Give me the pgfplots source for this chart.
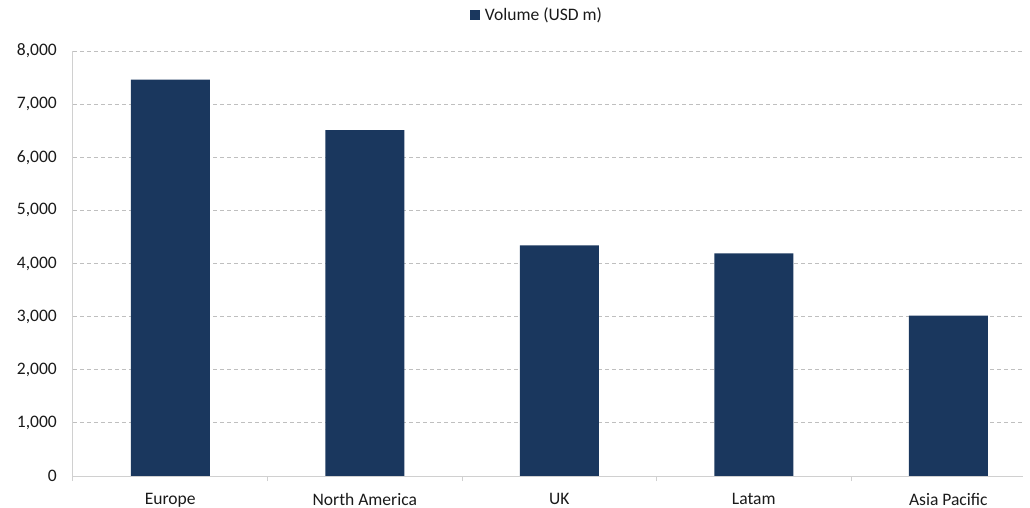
\documentclass[border=0pt]{standalone}
\usepackage{pgfplots}
\pgfplotsset{compat=1.18}
\usepackage{fontspec}
\setmainfont{Carlito}
\definecolor{barc}{HTML}{1A375E}
\definecolor{gridc}{HTML}{BFBFBF}
\definecolor{axl}{HTML}{D0D0D0}
\definecolor{txt}{HTML}{1A1A1A}
\begin{document}
\begin{tikzpicture}
\path[use as bounding box] (-73bp,-32bp) rectangle (957bp,476bp);
\begin{axis}[
  at={(0,0)}, anchor=south west,
  scale only axis, width=950bp, height=425bp,
  ymin=0, ymax=8000, ytick={0,1000,...,8000},
  xmin=-0.5, xmax=4.384,
  xtick={0,...,4},
  xticklabels={Europe,North America,UK,Latam,Asia Pacific},
  minor xtick={-0.5,0.5,...,3.5},
  major tick length=0pt,
  minor tick length=5bp,
  tick align=outside,
  minor x tick style={draw=axl, line width=1bp},
  major tick style={draw=none},
  ymajorgrids,
  grid style={draw=gridc, dash pattern=on 4bp off 3bp, line width=1bp},
  axis x line*=bottom, axis y line*=left,
  axis line style={draw=axl, line width=1bp, -},
  /pgf/number format/fixed,
  /pgf/number format/1000 sep={,},
  /pgf/number format/assume math mode=true,
  ticklabel style={font=\fontsize{17.6}{21}\selectfont, text=txt},
  yticklabel style={anchor=east, inner sep=0pt, xshift=-16bp},
  xticklabel style={anchor=north, inner sep=0pt, yshift=-17bp},
  legend style={at={(464bp,461bp)}, anchor=center, draw=none, fill=none,
    font=\fontsize{17.6}{21}\selectfont, text=txt, inner sep=0pt},
  legend cell align=left,
  legend image code/.code={\fill[barc] (0bp,-5bp) rectangle (10bp,5bp); \path (0bp,0bp) (13bp,0bp);},
]
\addplot[ybar, bar width=79bp, fill=barc, draw=none]
  coordinates {(0,7460) (1,6510) (2,4340) (3,4190) (4,3020)};
\addlegendentry{Volume (USD m)}
\end{axis}
\end{tikzpicture}
\end{document}
